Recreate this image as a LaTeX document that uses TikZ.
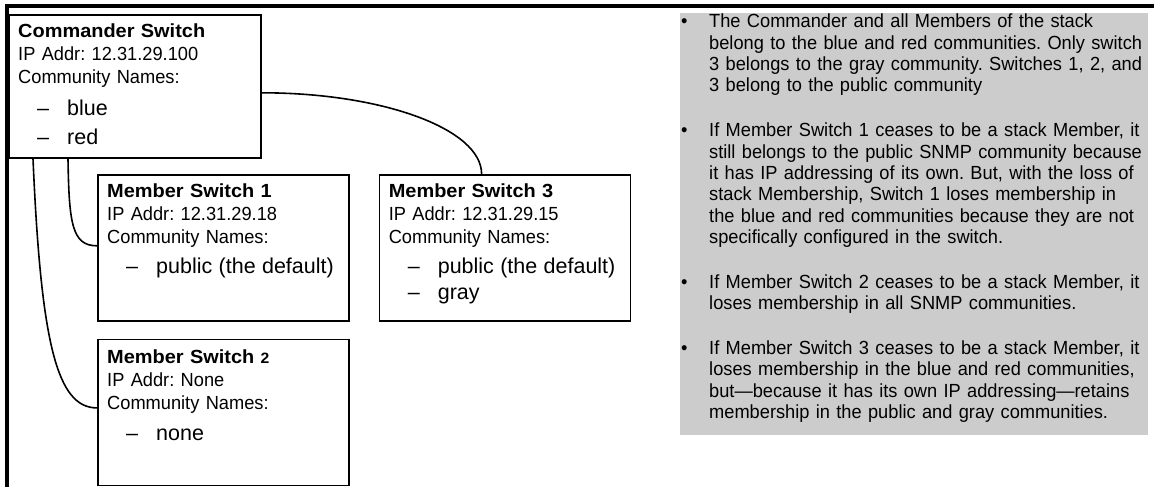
\documentclass[tikz,border=0pt]{standalone}
\usepackage{fontspec}
\setmainfont{Liberation Sans}
\newfontfamily\itemfont{Liberation Sans}
\newfontfamily\titlefont{Liberation Sans}[FakeStretch=1.05]
\newfontfamily\notefont{Liberation Sans}[FakeStretch=0.96]
\usetikzlibrary{positioning,calc}
\definecolor{panelgray}{HTML}{CCCCCC}
\newcommand{\dashitem}[1]{\par\noindent{\itemfont\fontsize{21.5}{26}\selectfont\hspace*{19pt}\makebox[30pt][l]{–}#1\par}}
\newcommand{\notebullet}{\hangindent=28pt\hangafter=1\noindent\makebox[28pt][l]{•}}

\begin{document}
\begin{tikzpicture}[x=1pt, y=-1pt,
    swbox/.style={draw, line width=1.6pt, inner sep=0pt, minimum width=251pt, minimum height=146pt},
    swtext/.style={anchor=north west, inner sep=0pt, text width=236pt, font=\notefont\fontsize{19}{23}\selectfont},
    wire/.style={line width=1.6pt}]
  \useasboundingbox (0,0) rectangle (1154,487);
  % Rahmen oben und links
  \draw[line width=4pt] (1154,6) -- (7,6) -- (7,487);
  % Commander
  \node[swbox, anchor=north west, minimum width=252pt, minimum height=143pt] (cmd) at (8,14) {};
  \node[swtext] (cmdtxt) at ($(cmd.north west)+(10,10)$) {\raggedright\frenchspacing
    {\titlefont\bfseries Commander Switch}\newline
    IP Addr: 12.31.29.100\newline
    Community Names:\par\vspace{6pt}
    \dashitem{blue}\vspace{3pt}
    \dashitem{red}};
  % Member 1
  \node[swbox, anchor=north west] (mem1) at (97,174) {};
  \node[swtext] (mem1txt) at ($(mem1.north west)+(10,10)$) {\raggedright\frenchspacing
    {\titlefont\bfseries Member Switch 1}\newline
    IP Addr: 12.31.29.18\newline
    Community Names:\par\vspace{4pt}
    \dashitem{public (the default)}};
  % Member 3
  \node[swbox, right=29pt of mem1] (mem3) {};
  \node[swtext] (mem3txt) at ($(mem3.north west)+(10,10)$) {\raggedright\frenchspacing
    {\titlefont\bfseries Member Switch 3}\newline
    IP Addr: 12.31.29.15\newline
    Community Names:\par\vspace{4pt}
    \dashitem{public (the default)}
    \dashitem{gray}};
  % Member 2
  \node[swbox, below=17pt of mem1] (mem2) {};
  \node[swtext] (mem2txt) at ($(mem2.north west)+(10,11)$) {\raggedright\frenchspacing
    {\titlefont\bfseries Member Switch {\fontsize{15}{15}\selectfont 2}}\newline
    IP Addr: None\newline
    Community Names:\par\vspace{5pt}
    \dashitem{none}};
  % Verbindungen
  \draw[wire] ([xshift=60pt]cmd.south west) .. controls +(1,65) and +(-25,0) .. ([yshift=2pt]mem1.west);
  \draw[wire] ([xshift=25pt]cmd.south west) .. controls +(8,185) and +(-40,0) .. ([yshift=4.5pt]mem2.west);
  \draw[wire] ([yshift=-6.5pt]cmd.east) .. controls +(121,0) and +(0,-45) .. ([xshift=103pt]mem3.north west);
  % Hinweise
  \node[fill=panelgray, anchor=north west, inner sep=0pt, minimum width=468pt, minimum height=422pt] (panel) at (680,13) {};
  \node[anchor=north west, inner sep=0pt, text width=466pt, font=\notefont\fontsize{19}{21.3}\selectfont] (notes) at ($(panel.north west)+(1,1)$) {\raggedright\frenchspacing
    \notebullet The Commander and all Members of the stack\newline
    belong to the blue and red communities. Only switch\newline
    3 belongs to the gray community. Switches 1, 2, and\newline
    3 belong to the public community\par\vspace{23.7pt}
    \notebullet If Member Switch 1 ceases to be a stack Member, it\newline
    still belongs to the public SNMP community because\newline
    it has IP addressing of its own. But, with the loss of\newline
    stack Membership, Switch 1 loses membership in\newline
    the blue and red communities because they are not\newline
    specifically configured in the switch.\par\vspace{23.7pt}
    \notebullet If Member Switch 2 ceases to be a stack Member, it\newline
    loses membership in all SNMP communities.\par\vspace{23.7pt}
    \notebullet If Member Switch 3 ceases to be a stack Member, it\newline
    loses membership in the blue and red communities,\newline
    but—because it has its own IP addressing—retains\newline
    membership in the public and gray communities.\par};
\end{tikzpicture}
\end{document}
